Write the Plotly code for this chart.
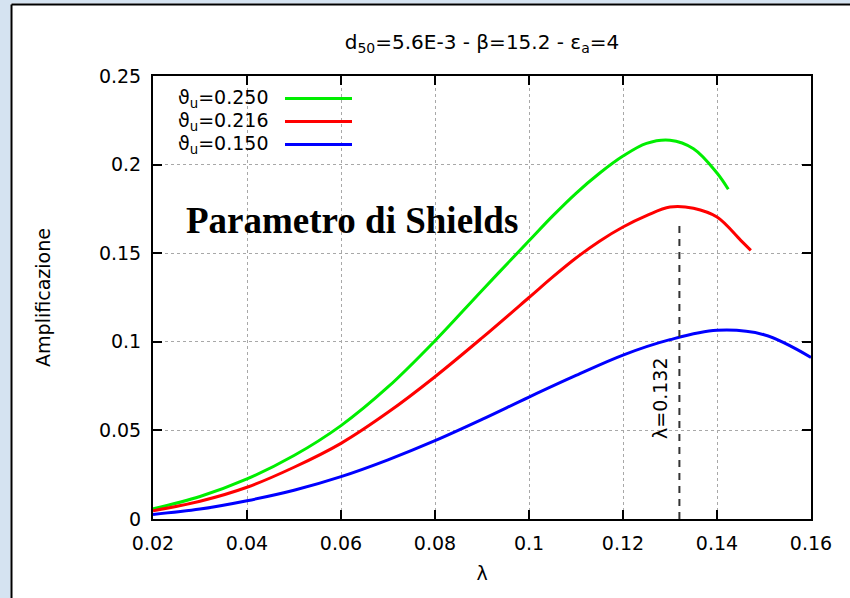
import plotly.graph_objects as go

# wavelength samples and amplification for each Shields parameter
lam_a = [0.02, 0.03, 0.04, 0.05, 0.06, 0.07, 0.08, 0.09, 0.10, 0.105, 0.11, 0.115, 0.12, 0.125, 0.13, 0.135, 0.14, 0.1424]
amp_a = [0.0057, 0.0127, 0.0226, 0.0358, 0.0527, 0.0745, 0.1006, 0.1290, 0.1570, 0.1709, 0.1838, 0.1951, 0.2048, 0.2120, 0.2138, 0.2090, 0.1953, 0.1861]

lam_b = [0.02, 0.03, 0.04, 0.05, 0.06, 0.07, 0.08, 0.09, 0.10, 0.105, 0.11, 0.115, 0.12, 0.125, 0.13, 0.135, 0.14, 0.145, 0.1472]
amp_b = [0.0046, 0.0100, 0.0179, 0.0292, 0.0427, 0.0602, 0.0803, 0.1022, 0.1250, 0.1365, 0.1473, 0.1568, 0.1648, 0.1712, 0.1761, 0.1754, 0.1704, 0.1574, 0.1516]

lam_c = [0.02, 0.03, 0.04, 0.05, 0.06, 0.07, 0.08, 0.09, 0.10, 0.11, 0.12, 0.13, 0.14, 0.15, 0.16]
amp_c = [0.0026, 0.0056, 0.0103, 0.0162, 0.0239, 0.0334, 0.0442, 0.0562, 0.0688, 0.0810, 0.0925, 0.1012, 0.1065, 0.1040, 0.0912]

series_labels = ["ϑ<sub>u</sub>=0.250", "ϑ<sub>u</sub>=0.216", "ϑ<sub>u</sub>=0.150"]
series_colors = ["#00ee00", "#ff0000", "#0000ff"]

lam_marker = 0.132
amp_marker = 0.1768

x_ticks = [0.02, 0.04, 0.06, 0.08, 0.10, 0.12, 0.14, 0.16]
y_ticks = [0, 0.05, 0.10, 0.15, 0.20, 0.25]

FONT = "DejaVu Sans, Liberation Sans, Arial, sans-serif"
W, H = 850, 598
L, R, T, B = 153, 39, 76, 79
pw, ph = W - L - R, H - T - B


def px(xp):
    return (xp - L) / pw


def py(yp):
    return (H - B - yp) / ph


fig = go.Figure()

for lam, amp, col in zip([lam_a, lam_b, lam_c], [amp_a, amp_b, amp_c], series_colors):
    fig.add_trace(go.Scatter(x=lam, y=amp, mode="lines",
                             line=dict(color=col, width=3, shape="spline", smoothing=1.0),
                             showlegend=False, hoverinfo="skip"))

# vertical marker of the red curve's maximum
fig.add_trace(go.Scatter(x=[lam_marker, lam_marker], y=[0, amp_marker - 0.008], mode="lines",
                         line=dict(color="#333333", width=2, dash="7px,6px"),
                         showlegend=False, hoverinfo="skip"))

shapes = []
# textured-blue frame on the left and top edges
frame = "#d5e3f1"
shapes.append(dict(type="rect", xref="paper", yref="paper", x0=px(0), x1=px(10.5), y0=py(H), y1=py(0),
                   fillcolor=frame, line=dict(width=0), layer="below"))
shapes.append(dict(type="rect", xref="paper", yref="paper", x0=px(0), x1=px(W), y0=py(3.5), y1=py(0),
                   fillcolor=frame, line=dict(width=0), layer="below"))
shapes.append(dict(type="line", xref="paper", yref="paper", x0=px(11.5), x1=px(11.5), y0=py(H), y1=py(4.5),
                   line=dict(color="black", width=2)))
shapes.append(dict(type="line", xref="paper", yref="paper", x0=px(11.5), x1=px(W), y0=py(4.5), y1=py(4.5),
                   line=dict(color="black", width=2)))

annotations = []
legend_rows = [98.5, 121.5, 144.5]
for lab, col, yr in zip(series_labels, series_colors, legend_rows):
    annotations.append(dict(text=lab, xref="paper", yref="paper", x=px(271), y=py(yr),
                            xanchor="right", yanchor="middle", showarrow=False,
                            font=dict(family=FONT, size=19, color="black")))
    shapes.append(dict(type="line", xref="paper", yref="paper", x0=px(285), x1=px(352),
                       y0=py(yr), y1=py(yr), line=dict(color=col, width=3)))

annotations.append(dict(text="<b>Parametro di Shields</b>", xref="paper", yref="paper",
                        x=px(184), y=py(220), xanchor="left", yanchor="middle", showarrow=False,
                        font=dict(family="Liberation Serif, Times New Roman, serif", size=37, color="black")))

annotations.append(dict(text="λ=0.132", x=lam_marker, y=0.0685, xref="x", yref="y",
                        xanchor="right", yanchor="middle", xshift=-7, textangle=-90, showarrow=False,
                        font=dict(family=FONT, size=19, color="black")))

fig.update_layout(
    width=W, height=H,
    margin=dict(l=L, r=R, t=T, b=B),
    paper_bgcolor="white", plot_bgcolor="white",
    shapes=shapes, annotations=annotations,
    title=dict(text="d<sub>50</sub>=5.6E-3 - β=15.2 - ε<sub>a</sub>=4",
               xref="container", yref="container", x=482 / W, xanchor="center",
               y=1 - 42 / H, yanchor="middle", font=dict(family=FONT, size=20, color="black")),
    font=dict(family=FONT, size=19, color="black"),
)

fig.update_xaxes(range=[0.02, 0.16], tickvals=x_ticks, ticktext=[f"{v:g}" for v in x_ticks],
                 ticks="inside", ticklen=9, tickwidth=2, tickcolor="black",
                 showline=True, linecolor="black", linewidth=2, mirror="ticks",
                 showgrid=True, gridcolor="#a8a8a8", griddash="dot", gridwidth=1,
                 zeroline=False, ticklabelstandoff=6,
                 title=dict(text="λ", font=dict(family=FONT, size=19), standoff=14))
fig.update_yaxes(range=[0, 0.25], tickvals=y_ticks, ticktext=[f"{v:g}" for v in y_ticks],
                 ticks="inside", ticklen=9, tickwidth=2, tickcolor="black",
                 showline=True, linecolor="black", linewidth=2, mirror="ticks",
                 showgrid=True, gridcolor="#a8a8a8", griddash="dot", gridwidth=1,
                 zeroline=False, ticklabelstandoff=6,
                 title=dict(text="Amplificazione", font=dict(family=FONT, size=19), standoff=43))

fig.write_html("out.html")
